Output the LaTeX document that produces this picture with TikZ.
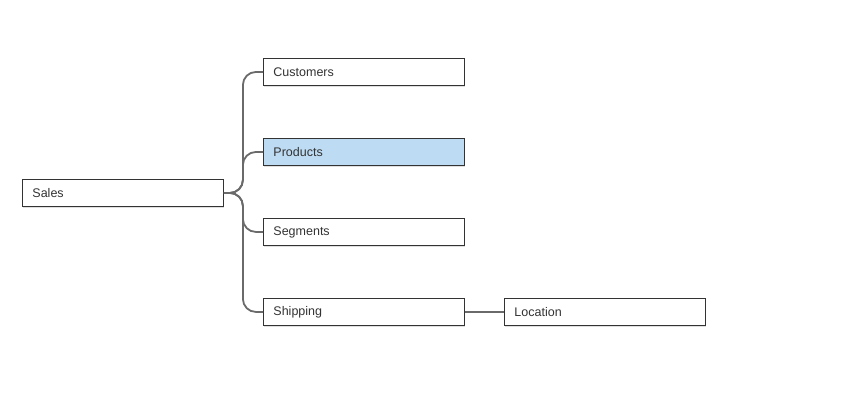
\documentclass[tikz,border=0pt]{standalone}
\usepackage{fontspec}
\setmainfont{Liberation Sans}
\usetikzlibrary{shadows}
\definecolor{linkgray}{HTML}{6A6A6A}
\definecolor{boxline}{HTML}{333333}
\definecolor{selblue}{HTML}{BDDCF4}
\tikzset{
  tbl/.style={draw=boxline, line width=0.9pt, fill=white, anchor=north west,
    minimum width=201pt, minimum height=27pt, text width=181pt,
    inner xsep=10pt, align=left, font=\fontsize{12.5}{14}\selectfont,
    text=black!80, drop shadow={shadow xshift=1pt, shadow yshift=-1.2pt, opacity=0.25}},
  sel/.style={fill=selblue},
  link/.style={draw=linkgray, line width=1.8pt, rounded corners=13pt}
}
\begin{document}
\begin{tikzpicture}[x=1pt,y=-1pt]
\useasboundingbox (0,0) rectangle (859,420);

% tables
\node[tbl] (sales) at (22,179) {Sales};
\node[tbl] (customers) at (263,58) {Customers};
\node[tbl,sel] (products) at (263,138) {Products};
\node[tbl] (segments) at (263,218) {Segments};
\node[tbl] (shipping) at (263,298) {Shipping};
\node[tbl] (location) at (504,298) {Location};

% joins
\draw[link] (sales.east) -- ++(19,0) |- (customers.west);
\draw[link] (sales.east) -- ++(19,0) |- (products.west);
\draw[link] (sales.east) -- ++(19,0) |- (segments.west);
\draw[link] (sales.east) -- ++(19,0) |- (shipping.west);
\draw[link,rounded corners=0pt] (shipping.east) -- (location.west);
\end{tikzpicture}
\end{document}
